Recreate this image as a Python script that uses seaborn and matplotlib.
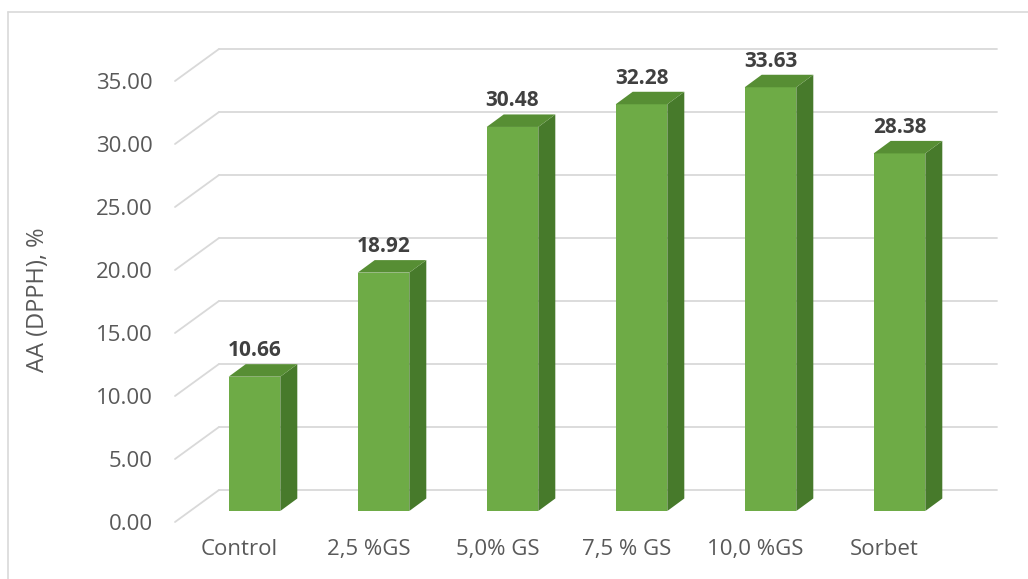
import matplotlib
matplotlib.use("Agg")
import matplotlib.pyplot as plt
import matplotlib.transforms as mtransforms
from matplotlib.patches import Polygon
from matplotlib.lines import Line2D
import seaborn as sns
import pandas as pd

# Antioxidant activity (DPPH) per sample
categories = ["Control", "2,5 %GS", "5,0% GS", "7,5 % GS", "10,0 %GS", "Sorbet"]
values = [10.66, 18.92, 30.48, 32.28, 33.63, 28.38]
ytick_values = [0, 5, 10, 15, 20, 25, 30, 35]
ytick_labels = [f"{v:.2f}" for v in ytick_values]

FRONT = "#6EAB46"
SIDE = "#477A2B"
TOP = "#578E34"
GRID = "#D9D9D9"
TICK_TXT = "#595959"
VAL_TXT = "#404040"

sns.set_theme(style="white")
plt.rcParams["font.family"] = ["Open Sans", "DejaVu Sans"]

W, H, DPI = 1028, 579, 100
fig = plt.figure(figsize=(W / DPI, H / DPI), dpi=DPI)
fig.patch.set_facecolor("white")

# axes = front plane of the 3-D floor
ax = fig.add_axes([175 / W, (H - 522) / H, 774 / W, 441 / H])
ax.set_facecolor("none")

df = pd.DataFrame({"cat": categories, "val": values})
sns.barplot(data=df, x="cat", y="val", color=FRONT, width=0.40,
            saturation=1, ax=ax, zorder=3)
ax.set_xlim(-0.5, len(categories) - 0.5)
ax.set_ylim(0, 35)

fig.canvas.draw()
px_x = ax.transData.transform((1, 0))[0] - ax.transData.transform((0, 0))[0]
px_y = ax.transData.transform((0, 1))[1] - ax.transData.transform((0, 0))[1]

# depth of the floor (front edge -> back wall), in pixels
wall_dx, wall_dy = 44 / px_x, 32 / px_y
# bars stand partway into the depth
bar_shift = mtransforms.offset_copy(ax.transData, fig=fig, x=15, y=11, units="dots")
# bar depth
bdx, bdy = 17 / px_x, 12.5 / px_y

# back wall gridlines with diagonal floor lines
x0 = -0.5
x1 = len(categories) - 0.5
for v in ytick_values:
    ax.add_line(Line2D([x0, x0 + wall_dx], [v, v + wall_dy], color=GRID,
                       lw=1.3, clip_on=False, zorder=1))
    ax.add_line(Line2D([x0 + wall_dx, x1 + wall_dx + 0.03], [v + wall_dy, v + wall_dy],
                       color=GRID, lw=1.3, clip_on=False, zorder=1))

for p, v in zip(ax.patches, values):
    p.set_transform(bar_shift)
    p.set_clip_on(False)
    p.set_edgecolor("none")
    bx, bw, h = p.get_x(), p.get_width(), p.get_height()
    side = Polygon([(bx + bw, 0), (bx + bw + bdx, bdy), (bx + bw + bdx, h + bdy), (bx + bw, h)],
                   closed=True, facecolor=SIDE, edgecolor="none",
                   transform=bar_shift, clip_on=False, zorder=3)
    top = Polygon([(bx, h), (bx + bw, h), (bx + bw + bdx, h + bdy), (bx + bdx, h + bdy)],
                  closed=True, facecolor=TOP, edgecolor="none",
                  transform=bar_shift, clip_on=False, zorder=3)
    ax.add_patch(side)
    ax.add_patch(top)
    ax.annotate(f"{v:.2f}", xy=(bx + bw / 2, h + bdy), xycoords=bar_shift,
                xytext=(0, 3), textcoords="offset pixels", ha="center", va="bottom",
                fontsize=15, fontweight="bold", color=VAL_TXT, zorder=5)

ax.set_yticks(ytick_values)
ax.set_yticklabels(ytick_labels)
ax.set_xlabel("")
ax.set_ylabel("")
ax.tick_params(axis="y", length=0, pad=16, labelsize=16, labelcolor=TICK_TXT)
ax.tick_params(axis="x", length=0, pad=12, labelsize=16, labelcolor=TICK_TXT)
for s in ax.spines.values():
    s.set_visible(False)
ax.grid(False)

fig.text(38 / W, 1 - 300 / H, "AA (DPPH), %", rotation=90, ha="center", va="center",
         fontsize=17, color=TICK_TXT)

# chart-area border (top and left edges)
fig.add_artist(Line2D([8 / W, 8 / W], [0, 1 - 12 / H], color="#D9D9D9", lw=1.2,
                      transform=fig.transFigure))
fig.add_artist(Line2D([8 / W, 1], [1 - 12 / H, 1 - 12 / H], color="#D9D9D9", lw=1.2,
                      transform=fig.transFigure))

fig.savefig("out.png", dpi=DPI)
